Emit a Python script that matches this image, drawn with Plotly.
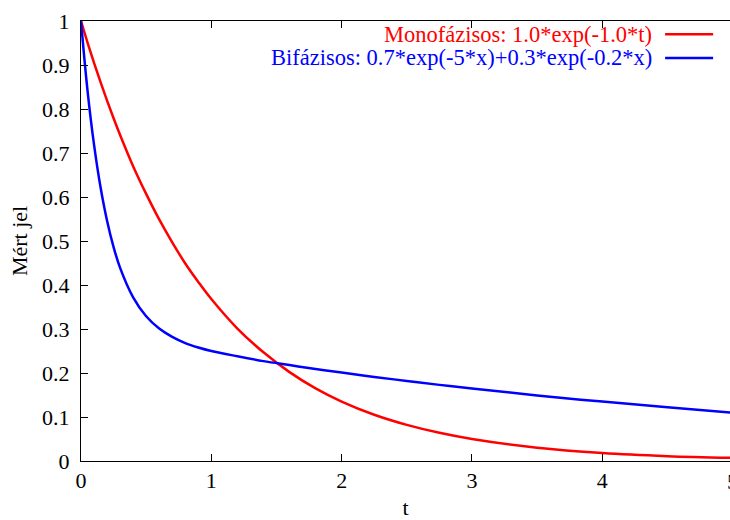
import plotly.graph_objects as go

t = [0, 0.05, 0.1, 0.15, 0.2, 0.25, 0.3, 0.4, 0.5, 0.6, 0.7, 0.8, 0.9, 1.0,
     1.2, 1.4, 1.6, 1.8, 2.0, 2.25, 2.5, 2.75, 3.0, 3.5, 4.0, 4.5, 5.0]
mono = [1.0, 0.951, 0.905, 0.861, 0.819, 0.779, 0.741, 0.670, 0.607, 0.549,
        0.497, 0.449, 0.407, 0.368, 0.301, 0.247, 0.202, 0.165, 0.135, 0.105,
        0.082, 0.064, 0.050, 0.030, 0.018, 0.011, 0.007]
bi = [1.0, 0.842, 0.719, 0.622, 0.546, 0.486, 0.439, 0.372, 0.329, 0.301,
      0.282, 0.268, 0.258, 0.250, 0.238, 0.227, 0.218, 0.209, 0.201, 0.191,
      0.182, 0.173, 0.165, 0.149, 0.135, 0.122, 0.110]
labels = ["Monofázisos: 1.0*exp(-1.0*t)", "Bifázisos: 0.7*exp(-5*x)+0.3*exp(-0.2*x)"]
colors = ["#ff0000", "#0000ff"]
x_max = 4.98

FONT = "Liberation Serif"
FS = 22
fig = go.Figure()
for ys, c in zip([mono, bi], colors):
    fig.add_trace(go.Scatter(x=t, y=ys, mode="lines", line=dict(color=c, width=2.5, shape="spline"),
                             showlegend=False))

# gnuplot-style key: right-aligned text with line sample to the right
key_y = [0.970, 0.916]
for lab, c, ky in zip(labels, colors, key_y):
    fig.add_annotation(text=lab, xref="paper", yref="paper", x=0.883, y=ky,
                       xanchor="right", yanchor="middle", showarrow=False,
                       font=dict(family=FONT, size=22.5, color=c))
    fig.add_shape(type="line", xref="paper", yref="paper", x0=0.900, x1=0.974, y0=ky, y1=ky,
                  line=dict(color=c, width=2.5))

# last x tick label sits just past the window edge (partly visible)
fig.add_annotation(text="5", xref="paper", yref="paper", x=5 / x_max, y=0, yshift=-20,
                   xanchor="center", yanchor="middle", showarrow=False,
                   font=dict(family=FONT, size=FS, color="black"))

tickfont = dict(family=FONT, size=FS, color="black")
fig.update_xaxes(range=[0, x_max], dtick=1, showgrid=False, zeroline=False, showline=True,
                 linecolor="black", linewidth=1, mirror="allticks", ticks="inside", ticklen=7,
                 tickcolor="black", tickfont=tickfont, automargin=False,
                 title=dict(text="t", font=tickfont, standoff=16))
fig.update_yaxes(range=[0, 1], dtick=0.1, showgrid=False, zeroline=False, showline=True,
                 linecolor="black", linewidth=1, mirror=False, ticks="inside", ticklen=7,
                 tickcolor="black", tickfont=tickfont, ticklabelstandoff=6,
                 title=dict(text="Mért jel", font=tickfont, standoff=8))
fig.update_layout(width=730, height=520, margin=dict(l=81, r=0, t=21, b=59),
                  plot_bgcolor="white", paper_bgcolor="white", font=dict(family=FONT))
fig.write_html("out.html")
